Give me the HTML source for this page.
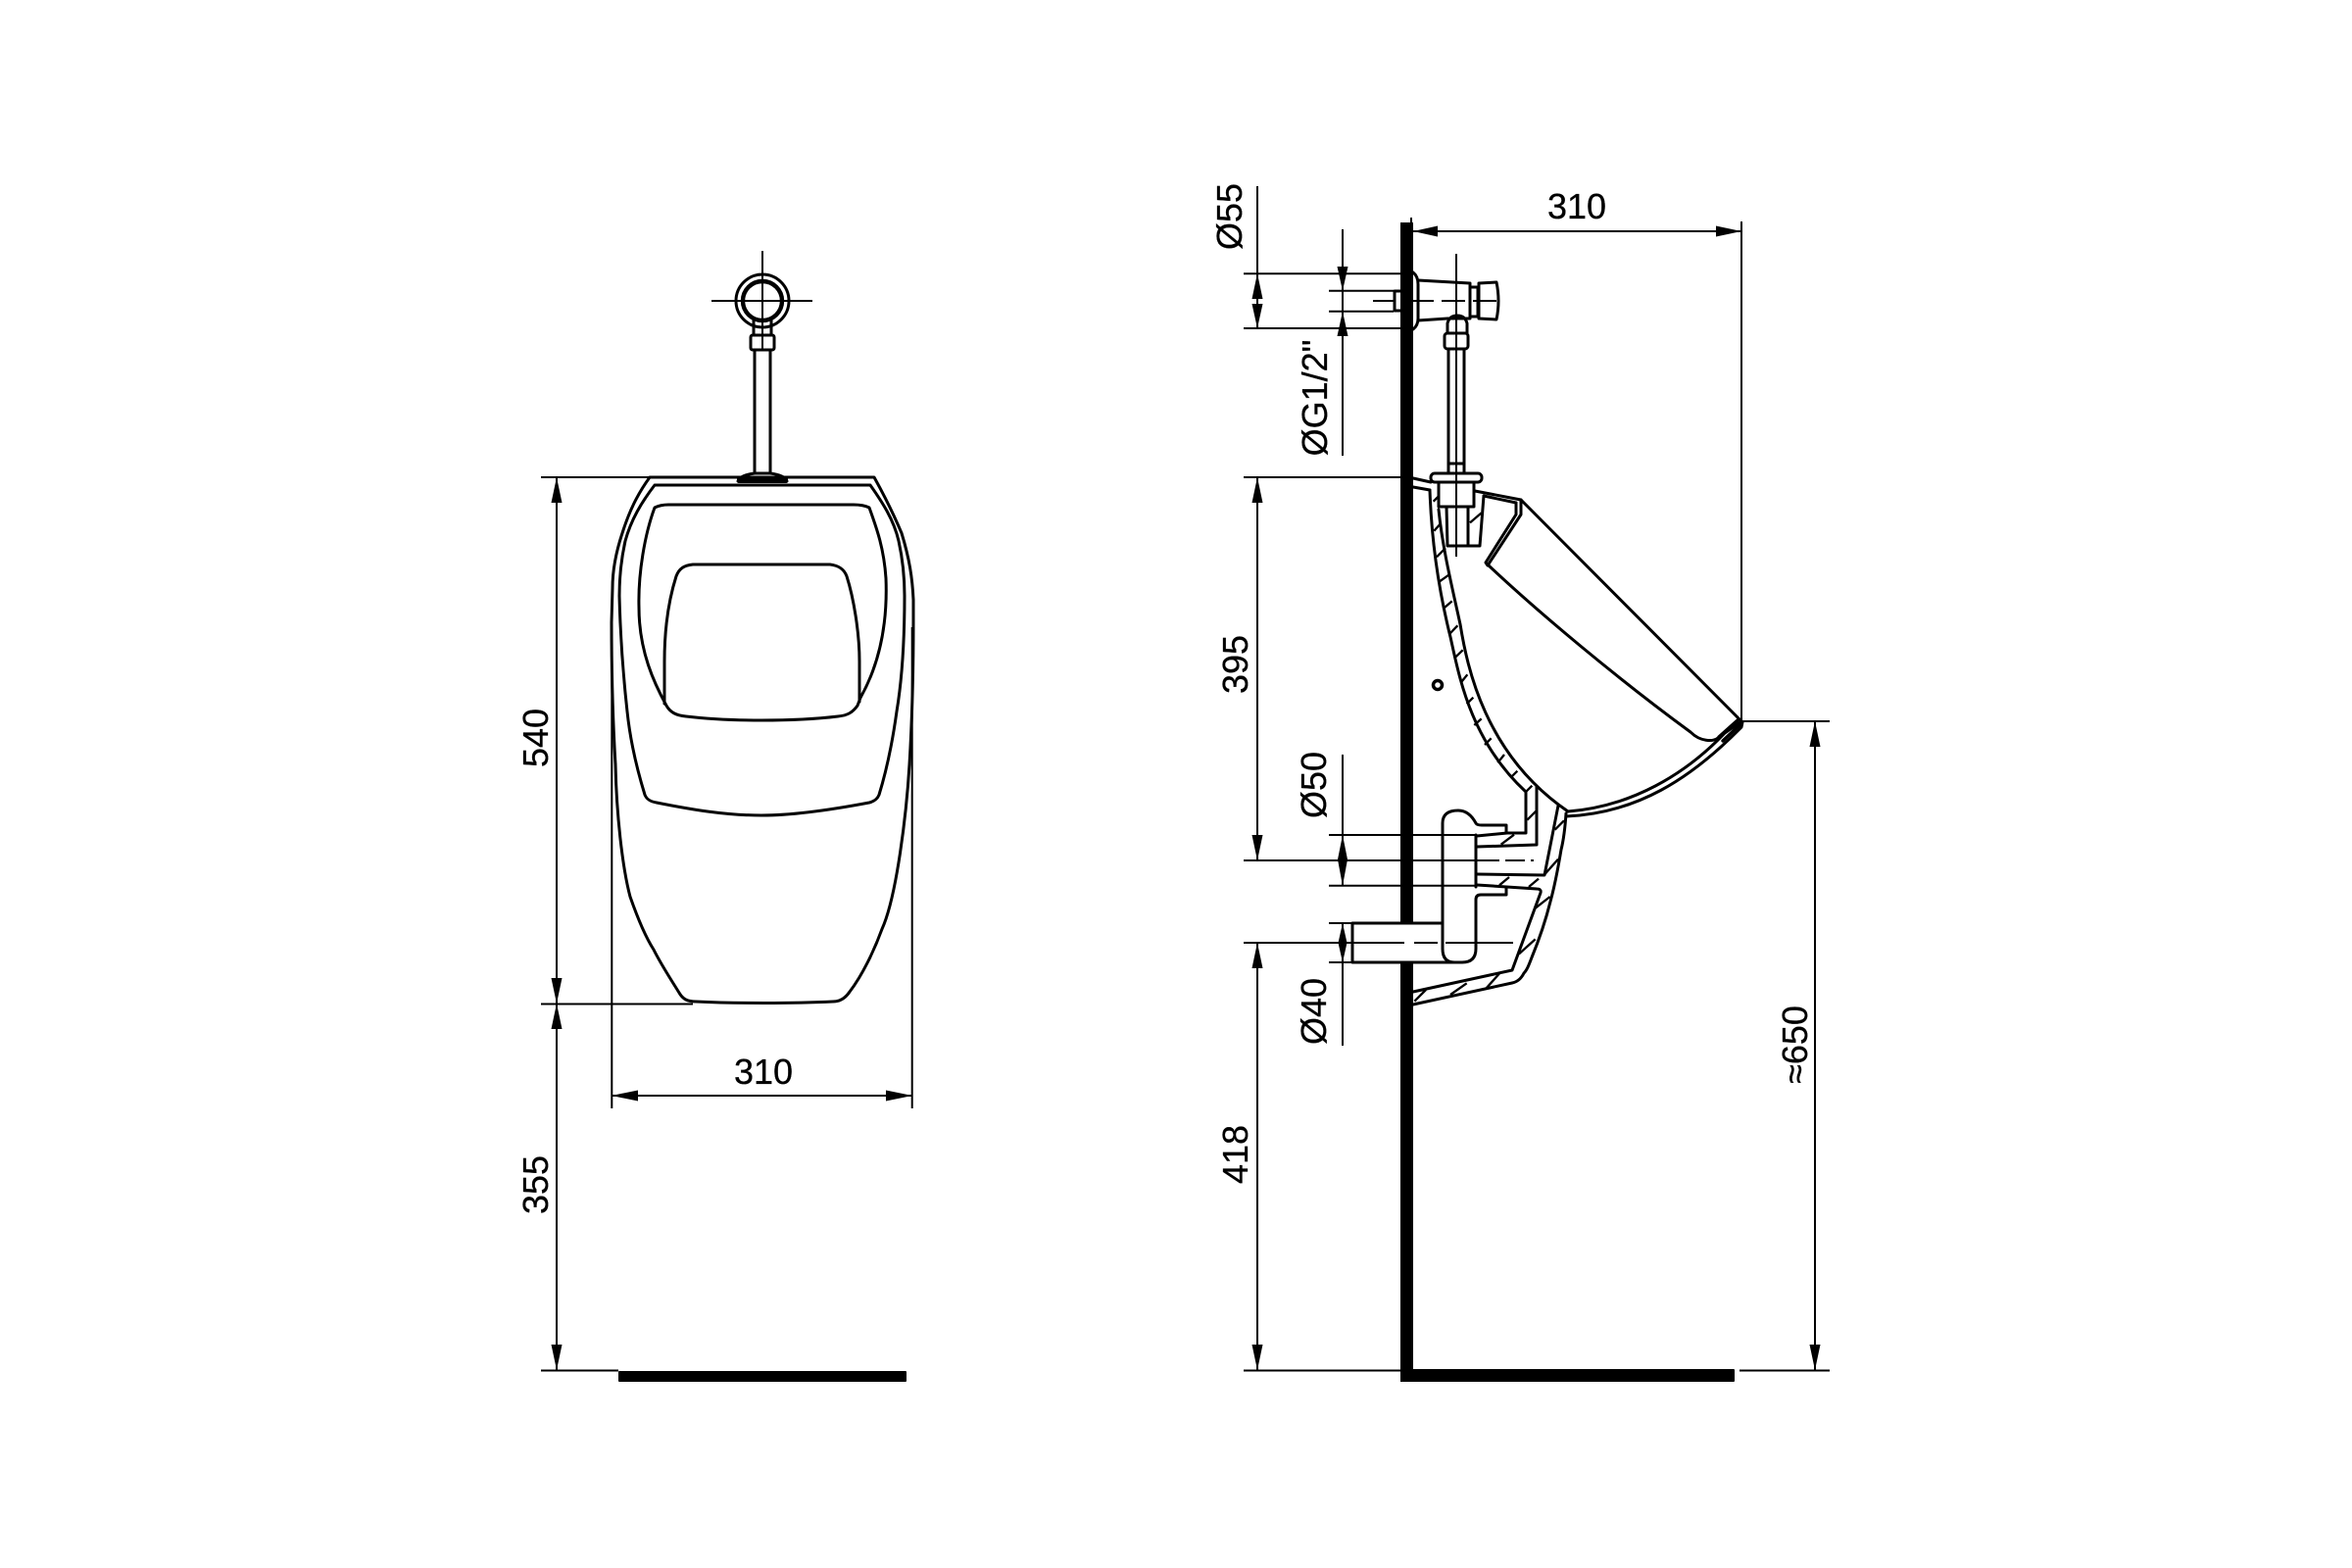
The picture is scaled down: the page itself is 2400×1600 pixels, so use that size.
<!DOCTYPE html>
<html><head><meta charset="utf-8"><title>Urinal dimensions</title>
<style>html,body{margin:0;padding:0;background:#fff}svg{display:block}text{font-family:"Liberation Sans",sans-serif;font-size:36px;fill:#000;stroke:#000;stroke-width:.3px}</style>
</head><body>
<svg width="2400" height="1600" viewBox="0 0 2400 1600" xmlns="http://www.w3.org/2000/svg">
<rect width="2400" height="1600" fill="#fff"/>

<!-- LEFT VIEW -->
<g fill="none" stroke="#000" stroke-width="3" stroke-linejoin="round" stroke-linecap="round">
<path d="M663,487 C650,505 642,522 635,544 C629,562 625,580 625,600 L624,635 C624,680 625,730 628,780 C629,830 635,885 643,915 C650,935 658,955 667,969 C675,985 685,1000 693,1013 C697,1020 702,1022 710,1022 C750,1024 810,1024 850,1022 C858,1022 863,1018 867,1012 C880,995 892,970 900,948 C915,915 925,830 928,780 C931,730 932,680 932,635 L932,612 C931,590 928,570 920,544 C912,525 902,505 892,487 Z"/>
<path d="M668,495 L888,495 C900,512 912,530 917,552 C921,570 923,590 923,608 C923,650 921,690 915,726 C911,755 905,785 897,811 C895,816 891,818 887,819 C850,826 810,832 777,832 C740,832 705,826 670,819 C664,818 660,816 658,811 C650,785 643,755 640,726 C636,690 633,650 632,608 C632,590 634,570 638,552 C644,530 655,512 668,495 Z"/>
<path d="M668,518 C672,516 676,515 682,515 L871,515 C878,515 883,516 887,518 C895,540 902,560 904,590 C906,640 896,680 878,712 L875,720 C870,727 865,730 855,731 C830,734 800,735 777,735 C750,735 725,734 700,731 C690,730 684,727 680,720 C668,698 652,665 652,620 C651,585 658,545 668,518 Z"/>
<path d="M678,718 L678,675 C678,640 683,610 690,588 C693,580 698,577 707,576 L847,576 C855,577 861,580 864,588 C871,610 877,645 877,675 L877,716"/>
<circle cx="778" cy="307" r="27"/>
<circle cx="778" cy="307" r="20" stroke-width="4.4"/>
<path d="M769,325 L769,342 M787,325 L787,342"/>
<rect x="766" y="342" width="24" height="15" rx="2"/>
<path d="M770,357 L770,483 M786,357 L786,483"/>
<path d="M753,491 Q755,485 770,483 L786,483 Q801,485 803,491"/>
</g>
<rect x="752" y="487" width="52" height="6" rx="2" fill="#000"/>
<g fill="none" stroke="#000" stroke-width="2">
<path d="M778,256 V358 M726,307 H829 M766,307 H790"/>
<path d="M552,487 H663 M552,1024.5 H707"/>
<path d="M568,487 V1398 M624.3,640 V1131 M930.7,640 V1131 M624,1118 H931 M552,1398.5 H631"/>
</g>
<rect x="631" y="1399" width="294" height="11" rx="1" fill="#000"/>
<g fill="#000">
<polygon points="624,1118 651,1112.5 651,1123.5"/><polygon points="931,1118 904,1112.5 904,1123.5"/>
<polygon points="568,487 562.5,513 573.5,513"/><polygon points="568,1024 562.5,998 573.5,998"/>
<polygon points="568,1024 562.5,1050 573.5,1050"/><polygon points="568,1398 562.5,1372 573.5,1372"/>
</g>
<text x="779" y="1106" text-anchor="middle">310</text>
<text transform="translate(559,753) rotate(-90)" text-anchor="middle">540</text>
<text transform="translate(559,1209) rotate(-90)" text-anchor="middle">355</text>

<!-- RIGHT VIEW: wall -->
<g fill="#000">
<rect x="1429" y="227" width="13" height="715"/>
<rect x="1429" y="982" width="13" height="428"/>
<rect x="1429" y="1397" width="341" height="13" rx="1"/>
</g>

<!-- valve -->
<g fill="none" stroke="#000" stroke-width="3" stroke-linejoin="round" stroke-linecap="round">
<path d="M1442,278 Q1447,282 1447,290 L1447,325 Q1447,332 1442,336"/>
<path d="M1447,286 L1500,289 L1500,325 L1477,325 L1447,327"/>
<path d="M1502,293 H1508 V323 H1502"/>
<path d="M1509,289 L1527,288 Q1531,307 1527,326 L1509,325 Z"/>
<rect x="1423" y="297" width="16" height="20"/>
<path d="M1477,340 V330 Q1479,322 1487,322 Q1495,322 1497,330 V340"/>
<rect x="1474" y="340" width="24" height="16" rx="3"/>
<path d="M1478,356 V483 M1494,356 V483 M1478,473 H1494"/>
<rect x="1460" y="483" width="52" height="9" rx="4"/>
<path d="M1468,492 V517 H1504 V492"/>
<path d="M1476,517 L1477,557 L1510,557 L1514,506"/>
<path d="M1498,517 V557"/>
<path d="M1442,488 L1460,492 M1442,497 L1459,500"/>
<!-- shell -->
<path d="M1459,500 C1461,560 1470,610 1480,650 C1489,690 1500,755 1557,808"/>
<path d="M1468,520 C1472,560 1482,600 1490,637 C1497,680 1515,770 1600,828"/>
<path d="M1600,828 C1665,823 1720,790 1760,748 L1777,736"/>
<path d="M1598,833 C1670,830 1725,795 1777,742 L1778,737"/>
<path d="M1777,736 L1552,510 L1505,501"/>
<path d="M1514,506 L1547,513"/>
<path d="M1552,510 L1552,525 L1518,577 L1516,574 L1547,525 L1547,513"/>
<path d="M1519,577 C1570,625 1650,692 1725,747 C1735,757 1748,757 1753,753"/>
<path d="M1754,752 L1773,735 M1758,756 L1776,739" stroke-width="3.4"/>
<!-- trap / outlet -->
<path d="M1472,968 L1472,840 Q1472,827 1488,827 Q1499,827 1506,840 Q1507,842 1512,842 L1537,842 L1537,850"/>
<path d="M1537,905 L1537,913 L1511,913 Q1506,913 1506,918 L1506,968 Q1506,982 1492,982 L1484,982 Q1472,982 1472,968"/>
<path d="M1506,852 V905"/>
<path d="M1380,942 H1472 M1380,982 H1484 M1380,942 V982"/>
<path d="M1507,853 L1538,850 L1557,850 L1557,808"/>
<path d="M1507,864 L1568,862 L1568,803"/>
<path d="M1507,892 L1576,893 L1590,822"/>
<path d="M1507,903 L1568,907 Q1573,907 1572,911 L1543,990 L1442,1012"/>
<path d="M1598,830 C1597,845 1596,855 1593,867 C1590,885 1587,902 1582,920 C1577,940 1570,960 1563,977 C1560,985 1558,990 1555,993 C1552,999 1548,1002 1543,1003 L1442,1025"/>
</g>
<circle cx="1467" cy="699" r="4.5" fill="none" stroke="#000" stroke-width="3.5"/>

<!-- hatches, coordinates in zoom-4 space -->
<g transform="translate(1400 470) scale(.33333)" fill="none" stroke="#000" stroke-width="7">
<path d="M188,125 L205,108 M190,215 L208,195 M198,295 L225,268 M207,370 L235,350 M222,450 L245,430 M238,530 L262,505 M252,605 L278,580 M272,680 L292,655 M290,745 L310,725 M313,810 L335,790 M345,870 L365,850 M385,925 L405,900 M425,970 L445,950 M470,1015 L490,995 M300,190 L335,160 M475,1100 L505,1070 M395,1175 L435,1145"/>
</g>
<g transform="translate(1300 760) scale(.33333)" fill="none" stroke="#000" stroke-width="7">
<path d="M860,260 L888,232 M830,395 L870,350 M800,500 L845,465 M750,640 L800,595 M540,765 L590,730 M650,745 L690,700 M430,785 L465,750 M690,430 L720,405 M780,435 L810,410"/>
</g>

<!-- right view dimensions -->
<g fill="none" stroke="#000" stroke-width="2">
<path d="M1442,236 H1777 M1777,226 V736 M1777,736 H1867 M1775,1398.5 H1867 M1852,736 V1398 M1440,222 V236"/>
<path d="M1283,190 V335 M1269,279.3 H1429 M1269,335 H1429"/>
<path d="M1370,234 V465 M1356,296.7 H1422 M1356,317.7 H1422"/>
<path d="M1269,487 H1429 M1283,487 V878"/>
<path d="M1486,259 V568"/>
<path d="M1401,307 H1423 M1439,307 H1533" stroke-dasharray="24 8"/>
<path d="M1370,770 V904 M1356,852 H1507 M1356,903.7 H1507"/>
<path d="M1269,878 H1510"/>
<path d="M1510,878 H1565" stroke-dasharray="20 6"/>
<path d="M1356,942 H1380 M1356,982 H1380 M1370,942 V1067"/>
<path d="M1269,962 H1433 M1443,962 H1467 M1475,962 H1544"/>
<path d="M1283,962 V1398 M1269,1398.5 H1429"/>
</g>
<g fill="#000">
<polygon points="1442,236 1467,230.5 1467,241.5"/><polygon points="1777,236 1751,230.5 1751,241.5"/>
<polygon points="1283,279 1277.5,305 1288.5,305"/><polygon points="1283,335 1277.5,310 1288.5,310"/>
<polygon points="1370,296.7 1364.5,272 1375.5,272"/><polygon points="1370,317.7 1364.5,343 1375.5,343"/>
<polygon points="1283,487 1277.5,513 1288.5,513"/><polygon points="1283,878 1277.5,852 1288.5,852"/>
<polygon points="1370,852 1375,877 1370,904 1365,877"/>
<polygon points="1370,942 1374.5,962 1370,982 1365.5,962"/>
<polygon points="1283,962 1277.5,988 1288.5,988"/><polygon points="1283,1398 1277.5,1372 1288.5,1372"/>
<polygon points="1852,736 1846.5,762 1857.5,762"/><polygon points="1852,1398 1846.5,1372 1857.5,1372"/>
</g>
<text x="1609" y="223" text-anchor="middle">310</text>
<text transform="translate(1267,221) rotate(-90)" text-anchor="middle">Ø55</text>
<text transform="translate(1354,406) rotate(-90)" text-anchor="middle">ØG1/2"</text>
<text transform="translate(1273,678) rotate(-90)" text-anchor="middle">395</text>
<text transform="translate(1353,801) rotate(-90)" text-anchor="middle">Ø50</text>
<text transform="translate(1353,1032) rotate(-90)" text-anchor="middle">Ø40</text>
<text transform="translate(1273,1178) rotate(-90)" text-anchor="middle">418</text>
<text transform="translate(1844,1066) rotate(-90)" text-anchor="middle">≈650</text>
</svg>
</body></html>
